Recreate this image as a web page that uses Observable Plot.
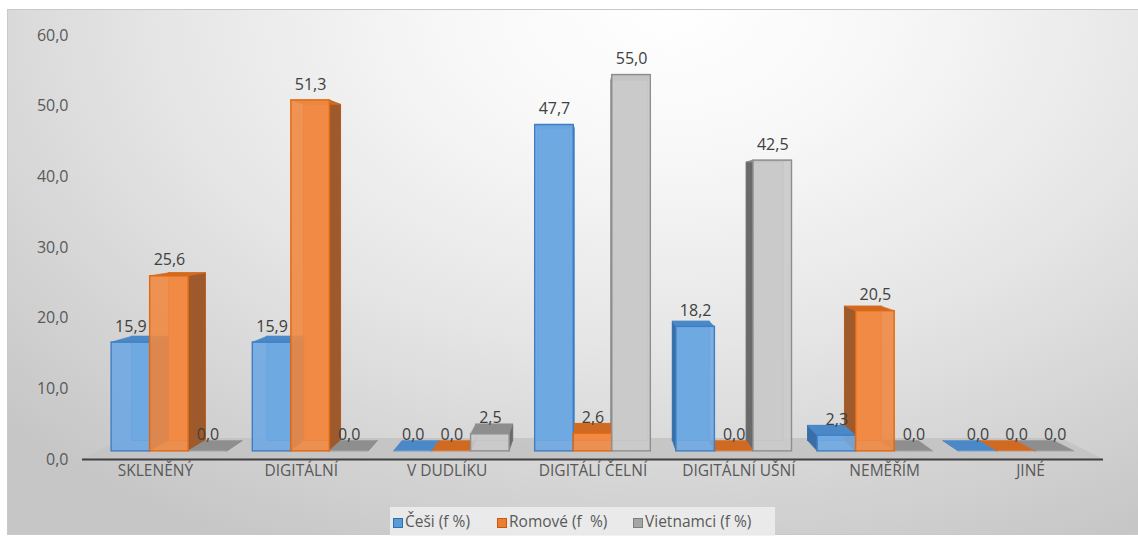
<!DOCTYPE html>
<html>
<head>
<meta charset="utf-8">
<script src="https://cdn.jsdelivr.net/npm/d3@7"></script>
<script src="https://cdn.jsdelivr.net/npm/@observablehq/plot@0.6"></script>
<style>
  html, body { margin: 0; padding: 0; background: #ffffff; }
  #wrap { position: relative; width: 1138px; height: 542px; overflow: hidden; font-family: "Open Sans", sans-serif; }
  #frame { position: absolute; left: 7px; top: 9px; width: 1140px; height: 526px;
    border: 1px solid #c9c9c9; box-sizing: border-box;
    background: radial-gradient(ellipse 80% 115% at 58% 0%, #ffffff 0%, #f7f7f7 25%, #e6e6e6 55%, #d4d4d4 80%, #c6c6c6 100%); }
  #chart { position: absolute; left: 0; top: 0; }
  #legend { position: absolute; left: 390px; top: 507px; width: 385px; height: 29px; background: rgba(240,240,240,0.8); }
  .item { position: absolute; top: 4px; font-size: 15.5px; color: #595959; white-space: pre; line-height: 20px; }
  .sw { display: inline-block; width: 10px; height: 10px; margin-right: 2px; vertical-align: -1px; box-sizing: border-box; }
</style>
</head>
<body>
<div id="wrap">
  <div id="frame"></div>
  <div id="chart"></div>
  <div id="legend"></div>
</div>
<script>
// ---- data ----
const categories = ["SKLENĚNÝ", "DIGITÁLNÍ", "V DUDLÍKU", "DIGITÁLÍ ČELNÍ", "DIGITÁLNÍ UŠNÍ", "NEMĚŘÍM", "JINÉ"];
const cesi      = [15.9, 15.9, 0.0, 47.7, 18.2, 2.3, 0.0];
const romove    = [25.6, 51.3, 0.0, 2.6, 0.0, 20.5, 0.0];
const vietnamci = [0.0, 0.0, 2.5, 55.0, 42.5, 0.0, 0.0];
const seriesNames = ["Češi (f %)", "Romové (f  %)", "Vietnamci (f %)"];
const yTicks = [0, 10, 20, 30, 40, 50, 60];

// ---- styles ----
const styles = [
  {front: "#6fa8e2", stroke: "#3d7ec4", side: "#3a6ea6", top: "#4a88c8", sw: "#5B9BD5", swStroke: "#2f6fb5"},
  {front: "#f08a45", stroke: "#e0680f", side: "#9e5a2c", top: "#d06a22", sw: "#ED7D31", swStroke: "#c55a11"},
  {front: "#cacaca", stroke: "#8e8e8e", side: "#6a6a6a", top: "#8e8e8e", sw: "#A5A5A5", swStroke: "#7f7f7f"}
];

// perspective (vanishing point in data units, depth scale factors)
const VX = 3, VY = 35.94;
const S_FLOOR_FRONT = 1, S1 = 0.968, S2 = 0.927, S_FLOOR_BACK = 0.917;
const BW = 0.273;
const px = (X, s) => VX + (X - VX) * s;
const py = (Y, s) => VY + (Y - VY) * s;

const bars = [];
[cesi, romove, vietnamci].forEach((vals, j) => vals.forEach((v, i) => {
  const L = i + (j - 1.5) * BW, R = L + BW;
  bars.push({id: `${j}-${i}`, i, j, v, L, R, st: styles[j]});
}));

const backs = bars.map(b => ({x1: px(b.L, S2), x2: px(b.R, S2), y1: py(0, S2), y2: py(b.v, S2), fill: b.st.front, stroke: b.st.stroke}));
const sides = [];
bars.forEach(b => {
  let X = null;
  if (b.R < VX - 1e-6) X = b.R; else if (b.L > VX + 1e-6) X = b.L;
  if (X === null) return;
  sides.push({id: b.id, x: px(X, S1), y1: py(0, S1), y2: py(b.v, S1), fill: b.st.side});
  sides.push({id: b.id, x: px(X, S2), y1: py(0, S2), y2: py(b.v, S2), fill: b.st.side});
});
const tops = [];
bars.forEach(b => {
  tops.push({id: b.id, y: py(b.v, S1), x1: px(b.L, S1), x2: px(b.R, S1), fill: b.st.top});
  tops.push({id: b.id, y: py(b.v, S2), x1: px(b.L, S2), x2: px(b.R, S2), fill: b.st.top});
});
const fronts = bars.map(b => ({x1: px(b.L, S1), x2: px(b.R, S1), y1: py(0, S1), y2: py(b.v, S1), fill: b.st.front, stroke: b.st.stroke, v: b.v}));
const labels = bars.map(b => ({x: (px(b.L, S1) + px(b.R, S1)) / 2, y: py(b.v, S1), text: b.v.toFixed(1).replace(".", ",")}));
const floor = [
  {y: py(0, S_FLOOR_FRONT), x1: px(-0.5, S_FLOOR_FRONT), x2: px(6.5, S_FLOOR_FRONT)},
  {y: py(0, S_FLOOR_BACK), x1: px(-0.5, S_FLOOR_BACK), x2: px(6.5, S_FLOOR_BACK)}
];

const fmt = d => d.toFixed(1).replace(".", ",");

const chart = Plot.plot({
  width: 1138,
  height: 500,
  marginLeft: 82,
  marginRight: 35,
  marginTop: 35,
  marginBottom: 41,
  style: {background: "transparent", color: "#595959", fontFamily: "'Open Sans', sans-serif"},
  x: {type: "linear", domain: [-0.5, 6.5], axis: null},
  y: {domain: [0, 60], axis: null},
  color: {type: "identity"},
  marks: [
    Plot.area(floor, {x1: "x1", x2: "x2", y1: "y", fill: "#c3c3c3", fillOpacity: 0.9}),
    Plot.ruleY([0], {stroke: "#404040", strokeWidth: 2}),
    Plot.rect(backs, {x1: "x1", x2: "x2", y1: "y1", y2: "y2", fill: "fill", stroke: "stroke", strokeWidth: 1}),
    Plot.area(sides, {x1: "x", y1: "y1", y2: "y2", z: "id", fill: "fill", stroke: "fill", strokeWidth: 0.5}),
    Plot.area(tops, {y1: "y", x1: "x1", x2: "x2", z: "id", fill: "fill", stroke: "fill", strokeWidth: 0.5}),
    Plot.rect(fronts.filter(d => d.v > 0), {x1: "x1", x2: "x2", y1: "y1", y2: "y2", fill: "fill", fillOpacity: 0.9, stroke: "stroke", strokeWidth: 1.4}),
    Plot.text(labels, {x: "x", y: "y", text: "text", dy: -16, fontSize: 16, fill: "#404040"}),
    Plot.axisY(yTicks, {tickSize: 0, tickPadding: 14, tickFormat: fmt, fontSize: 16}),
    Plot.axisX(d3.range(categories.length), {tickSize: 0, tickPadding: 5, tickFormat: i => categories[i], fontSize: 15.5})
  ]
});
document.getElementById("chart").appendChild(chart);

// legend
const legend = document.getElementById("legend");
const lefts = [3, 107, 243];
seriesNames.forEach((name, j) => {
  const it = document.createElement("div");
  it.className = "item";
  it.style.left = lefts[j] + "px";
  const sw = document.createElement("span");
  sw.className = "sw";
  sw.style.background = styles[j].sw;
  sw.style.border = "1px solid " + styles[j].swStroke;
  it.appendChild(sw);
  it.appendChild(document.createTextNode(name));
  legend.appendChild(it);
});
</script>
</body>
</html>
